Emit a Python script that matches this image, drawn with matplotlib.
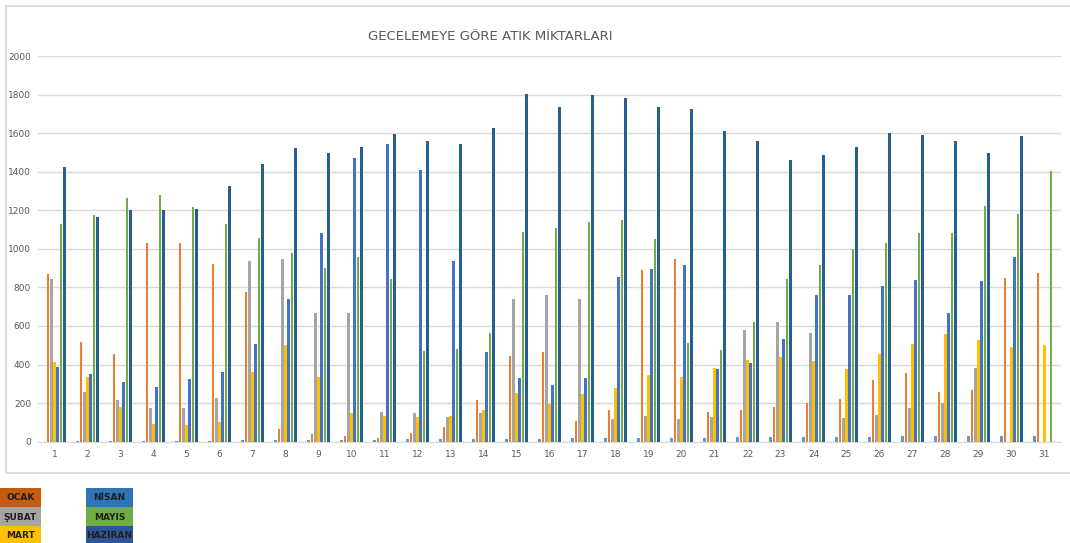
#coding: utf-8
import numpy as np
import matplotlib.pyplot as plt
from matplotlib.patches import Rectangle

# gunler (1..31) - grafikte ilk seri olarak da ciziliyor
gunler = [1, 2, 3, 4, 5, 6, 7, 8, 9, 10, 11, 12, 13, 14, 15, 16,
          17, 18, 19, 20, 21, 22, 23, 24, 25, 26, 27, 28, 29, 30, 31]
gun_etiketleri = [str(g) for g in gunler]

ocak = [869, 519, 455, 1030, 1030, 920, 775, 64, 38, 29, 17, 43, 78, 216, 446, 463,
        107, 166, 890, 947, 154, 166, 178, 199, 223, 320, 354, 258, 266, 850, 875]
subat = [845, 256, 214, 176, 173, 228, 937, 949, 665, 665, 156, 147, 130, 147, 742, 761,
         742, 119, 135, 116, 128, 577, 619, 565, 123, 138, 176, 199, 384, 0, 0]
mart = [415, 337, 180, 92, 86, 100, 363, 501, 337, 147, 135, 126, 135, 164, 252, 195,
        247, 278, 346, 334, 382, 422, 441, 417, 377, 455, 506, 560, 527, 491, 501]
nisan = [387, 353, 308, 285, 327, 360, 508, 740, 1080, 1473, 1544, 1409, 939, 467, 328, 294,
         328, 854, 897, 914, 375, 408, 534, 762, 759, 809, 838, 666, 835, 956, 0]
mayis = [1127, 1177, 1262, 1279, 1219, 1127, 1058, 980, 899, 959, 842, 470, 479, 562, 1089, 1106,
         1137, 1150, 1051, 510, 477, 622, 845, 916, 997, 1032, 1082, 1082, 1222, 1182, 1405]
haziran = [1426, 1163, 1201, 1201, 1207, 1326, 1438, 1521, 1497, 1526, 1594, 1561, 1544, 1628, 1801, 1737,
           1796, 1784, 1734, 1725, 1613, 1557, 1461, 1487, 1526, 1602, 1590, 1561, 1499, 1585, 0]

seriler = [gunler, ocak, subat, mart, nisan, mayis, haziran]
renkler = ['#5B9BD5', '#ED7D31', '#A5A5A5', '#FFC000', '#4472C4', '#70AD47', '#255E91']

fig = plt.figure(figsize=(10.7, 5.43), dpi=100)

# grafik alani cercevesi
fig.patches.append(Rectangle((6 / 1070, 1 - 473 / 543), 1.1, 467 / 543, transform=fig.transFigure,
                             fill=False, edgecolor='#D9D9D9', linewidth=1.2, zorder=0))

ax = fig.add_axes([38 / 1070, 1 - 441.7 / 543, 1023 / 1070, 385.7 / 543])

x = np.arange(len(gunler))
for i, (vals, c) in enumerate(zip(seriler, renkler)):
    ax.bar(x + (i - 3) * 0.1, vals, width=0.08, color=c, zorder=3)

ax.set_xlim(-0.5, len(gunler) - 0.5)
ax.set_ylim(0, 2000)
ax.set_yticks(range(0, 2001, 200))
ax.set_xticks(x)
ax.set_xticklabels(gun_etiketleri)
ax.tick_params(axis='both', length=0, labelsize=6.5, colors='#595959')
ax.tick_params(axis='y', pad=5)
ax.tick_params(axis='x', pad=6)
ax.grid(axis='y', color='#D9D9D9', linewidth=1, zorder=0)
for s in ['top', 'right', 'left']:
    ax.spines[s].set_visible(False)
ax.spines['bottom'].set_color('#D9D9D9')

fig.text(490 / 1070, 1 - 37 / 543, 'GECELEMEYE GÖRE ATIK MİKTARLARI', ha='center', va='center',
         fontsize=9.5, color='#595959')

# alttaki renk kutulari (lejant)
lejant = [('OCAK', '#C55A11', 0, 488), ('ŞUBAT', '#A5A5A5', 0, 507), ('MART', '#FFC000', 0, 526),
          ('NİSAN', '#2E75B6', 86, 488), ('MAYIS', '#70AD47', 86, 507), ('HAZİRAN', '#2F5597', 86, 526)]
for ad, renk, px, py in lejant:
    w = 41 if px == 0 else 47
    fig.patches.append(Rectangle((px / 1070, 1 - (py + 19) / 543), w / 1070, 19 / 543,
                                 transform=fig.transFigure, facecolor=renk, edgecolor='none'))
    fig.text((px + w / 2) / 1070, 1 - (py + 10) / 543, ad, ha='center', va='center',
             fontsize=6.5, fontweight='bold', color='#1F1F1F')

fig.savefig('out.png', dpi=100)
